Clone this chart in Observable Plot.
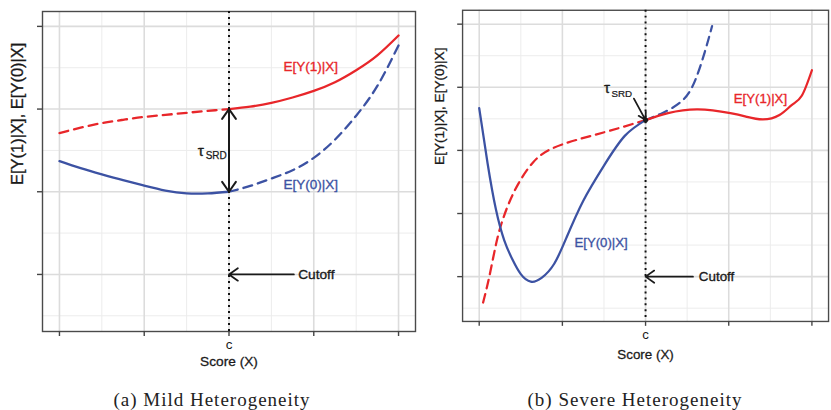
<!DOCTYPE html>
<html><head><meta charset="utf-8">
<script src="https://cdn.jsdelivr.net/npm/d3@7"></script>
<script src="https://cdn.jsdelivr.net/npm/@observablehq/plot@0.6"></script>
<style>
body{margin:0;background:#fff;width:831px;height:410px;overflow:hidden;position:relative;font-family:"Liberation Sans",Arial,sans-serif}
#a{position:absolute;left:0;top:0}
#b{position:absolute;left:420px;top:0}
.cap{position:absolute;top:389px;font-family:"Liberation Serif",serif;font-size:19px;letter-spacing:1px;color:#222;white-space:nowrap;transform:translateX(-50%);line-height:22px}
</style></head><body>
<div id="a"></div><div id="b"></div>
<div class="cap" style="left:212px">(a) Mild Heterogeneity</div>
<div class="cap" style="left:635px">(b) Severe Heterogeneity</div>
<script>
// ---- shared ----
const xTicks = [0, 1, 2, 3, 4];
const xMinor = [0.5, 1.5, 2.5, 3.5];
const cutoff = 2;
const yLabel = "E[Y(1)|X], E[Y(0)|X]";
const xLabel = "Score (X)";
const label1 = "E[Y(1)|X]";
const label0 = "E[Y(0)|X]";
const cutoffLabel = "Cutoff";

// ---- panel (a): mild heterogeneity ----
const aYTicks = [1, 2, 3, 4];
const aYMinor = [0.5, 1.5, 2.5, 3.5];
const aRedDashX  = [0, 0.25, 0.5, 0.75, 1.0, 1.25, 1.5, 1.75, 2.0];
const aRedDashY  = [2.71, 2.775, 2.83, 2.87, 2.905, 2.93, 2.955, 2.978, 3.0];
const aRedSolX   = [2.0, 2.25, 2.5, 2.75, 3.0, 3.25, 3.5, 3.75, 4.0];
const aRedSolY   = [3.0, 3.03, 3.075, 3.14, 3.22, 3.325, 3.47, 3.65, 3.89];
const aBlueSolX  = [0, 0.25, 0.5, 0.75, 1.0, 1.25, 1.5, 1.75, 2.0];
const aBlueSolY  = [2.37, 2.285, 2.21, 2.14, 2.075, 2.015, 1.98, 1.98, 2.0];
const aBlueDashX = [2.0, 2.25, 2.5, 2.75, 3.0, 3.25, 3.5, 3.75, 4.0];
const aBlueDashY = [2.0, 2.07, 2.16, 2.26, 2.41, 2.63, 2.92, 3.28, 3.77];

// ---- panel (b): severe heterogeneity ----
const bYTicks = [1, 2, 3, 4, 5];
const bYMinor = [0.5, 1.5, 2.5, 3.5, 4.5];
const bRedDashX  = [0.047, 0.118, 0.2, 0.27, 0.353, 0.47, 0.647, 0.86, 1.18, 1.565, 2.0];
const bRedDashY  = [0.59, 0.98, 1.50, 1.85, 2.15, 2.47, 2.81, 3.02, 3.17, 3.31, 3.48];
const bRedSolX   = [2.0, 2.27, 2.63, 3.02, 3.22, 3.41, 3.61, 3.76, 3.88, 4.0];
const bRedSolY   = [3.48, 3.59, 3.65, 3.59, 3.53, 3.49, 3.56, 3.72, 3.87, 4.27];
const bBlueSolX  = [0, 0.1, 0.2, 0.3, 0.4, 0.5, 0.62, 0.75, 0.9, 1.05, 1.25, 1.5, 1.75, 2.0];
const bBlueSolY  = [3.67, 2.80, 2.07, 1.58, 1.27, 1.04, 0.92, 0.98, 1.20, 1.62, 2.20, 2.76, 3.23, 3.48];
const bBlueDashX = [2.0, 2.2, 2.435, 2.59, 2.71, 2.8];
const bBlueDashY = [3.48, 3.59, 3.78, 4.09, 4.55, 4.97];

const RED = "#e8262a", BLUE = "#3c52a3", INK = "#1a1a1a";

function txt(value, x, y, size, color, extra = {}) {
  return Plot.text([value], {x, y, text: d => d, textAnchor: "start", fontSize: size, fill: color,
    stroke: color, strokeWidth: 0.35, ...extra});
}

function panel(o) {
  const lineOpts = (stroke, dashed) => ({stroke, strokeWidth: 2.3, curve: "natural",
    strokeDasharray: dashed ? "9,6" : null});
  return Plot.plot({
    width: 420, height: 410,
    marginLeft: o.ml, marginRight: o.mr, marginTop: o.mt, marginBottom: o.mb,
    x: {domain: [-0.2, 4.2]},
    y: {domain: o.yDomain},
    style: {fontFamily: "Liberation Sans, Arial, sans-serif", fontSize: "13px", background: "white", overflow: "visible"},
    marks: [
      Plot.gridX(xMinor, {stroke: "#ececec", strokeOpacity: 1, strokeWidth: 1}),
      Plot.gridY(o.yMinor, {stroke: "#ececec", strokeOpacity: 1, strokeWidth: 1}),
      Plot.gridX(xTicks, {stroke: "#dcdcdc", strokeOpacity: 1, strokeWidth: 1.6}),
      Plot.gridY(o.yTicks, {stroke: "#dcdcdc", strokeOpacity: 1, strokeWidth: 1.6}),
      Plot.frame({stroke: "#4a4a4a", strokeWidth: 1.4}),
      Plot.axisX(xTicks, {tickSize: 5, tickPadding: 3, tickFormat: d => d === cutoff ? "c" : "",
        stroke: "#444", strokeWidth: 1.4, fontSize: 13.5, fill: INK, label: null}),
      Plot.axisY(o.yTicks, {tickSize: 5, tickFormat: () => "", stroke: "#444", strokeWidth: 1.4, label: null}),
      Plot.text([xLabel], {frameAnchor: "bottom", dy: o.xLabDy, text: d => d, fontSize: 13.7, fill: INK, stroke: INK, strokeWidth: 0.3}),
      Plot.text([yLabel], {frameAnchor: "left", rotate: -90, dx: o.yLabDx, dy: o.yLabDy, text: d => d, fontSize: o.yLabSize, fill: INK, stroke: INK, strokeWidth: 0.3}),
      Plot.line(d3.zip(o.rdx, o.rdy), lineOpts(RED, true)),
      Plot.line(d3.zip(o.bsx, o.bsy), lineOpts(BLUE, false)),
      Plot.line(d3.zip(o.bdx, o.bdy), lineOpts(BLUE, true)),
      Plot.line(d3.zip(o.rsx, o.rsy), lineOpts(RED, false)),
      Plot.ruleX([cutoff], {stroke: "#111", strokeWidth: 2, strokeDasharray: "2,4"}),
      ...o.extra,
      Plot.arrow([o.cut], {x1: d => d[0], y1: d => d[1], x2: cutoff, y2: d => d[1], stroke: INK, strokeWidth: 1.8, headLength: 9, headAngle: 70}),
      txt(cutoffLabel, o.cutText[0], o.cutText[1], 13.7, INK, {textAnchor: "start"}),
      txt(label1, o.l1[0], o.l1[1], 13.5, RED),
      txt(label0, o.l0[0], o.l0[1], 13.5, BLUE),
      txt("τ", o.tau[0], o.tau[1], 15.5, INK),
      txt("SRD", o.srd[0], o.srd[1], 10, INK, {strokeWidth: 0.25})
    ]
  });
}

document.getElementById("a").append(panel({
  ml: 42, mr: 5, mt: 11, mb: 79, yDomain: [0.31, 4.18], yTicks: aYTicks, yMinor: aYMinor,
  rdx: aRedDashX, rdy: aRedDashY, rsx: aRedSolX, rsy: aRedSolY,
  bsx: aBlueSolX, bsy: aBlueSolY, bdx: aBlueDashX, bdy: aBlueDashY,
  xLabDy: 34, yLabDx: -25, yLabDy: 13.5, yLabSize: 16.5,
  cut: [2.765, 1], cutText: [2.816, 1], l1: [2.643, 3.516], l0: [2.643, 2.09],
  tau: [1.63, 2.49], srd: [1.725, 2.44],
  extra: [
    Plot.arrow([[2.5, 3.0], [2.5, 2.0]], {x1: cutoff, y1: d => d[0], x2: cutoff, y2: d => d[1], stroke: INK, strokeWidth: 2, headLength: 9, headAngle: 70})
  ]
}));

document.getElementById("b").append(panel({
  ml: 43, mr: 3, mt: 10, mb: 82, yDomain: [0.29, 5.22], yTicks: bYTicks, yMinor: bYMinor,
  rdx: bRedDashX, rdy: bRedDashY, rsx: bRedSolX, rsy: bRedSolY,
  bsx: bBlueSolX, bsy: bBlueSolY, bdx: bBlueDashX, bdy: bBlueDashY,
  xLabDy: 38, yLabDx: -23, yLabDy: -1, yLabSize: 13.9,
  cut: [2.57, 1], cutText: [2.64, 1], l1: [3.06, 3.82], l0: [1.145, 1.53],
  tau: [1.5, 3.99], srd: [1.59, 3.89],
  extra: [
    Plot.arrow([[1.86, 3.82]], {x1: d => d[0], y1: d => d[1], x2: cutoff, y2: 3.48, stroke: INK, strokeWidth: 1.8, headLength: 7, headAngle: 60}),
    Plot.dot([[cutoff, 3.48]], {x: d => d[0], y: d => d[1], r: 2.6, fill: INK})
  ]
}));
</script>
</body></html>
